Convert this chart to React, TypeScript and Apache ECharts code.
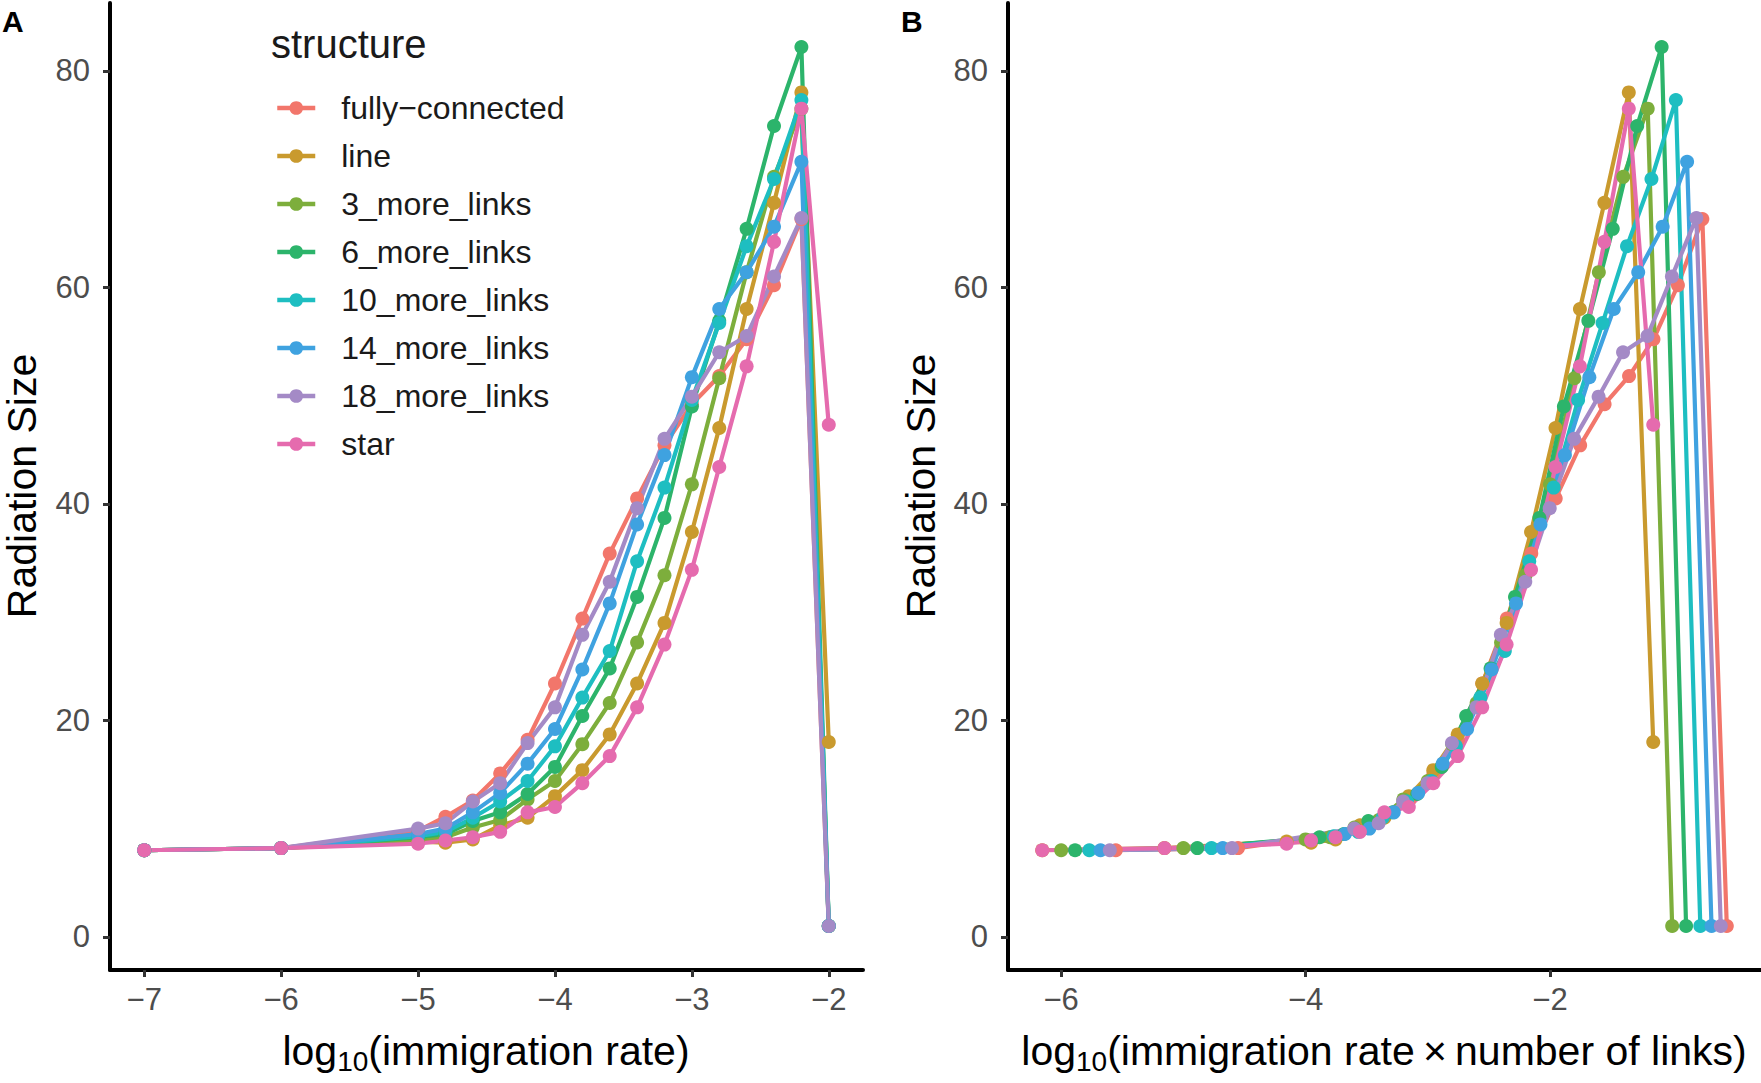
import React, { useEffect, useRef } from "react";
import * as echarts from "echarts";

// log10(immigration rate) sampled values
const logRate = [-7, -6, -5, -4.8, -4.6, -4.4, -4.2, -4.0, -3.8, -3.6, -3.4, -3.2, -3.0, -2.8, -2.6, -2.4, -2.2, -2.0];

const structures = [
  "fully-connected",
  "line",
  "3_more_links",
  "6_more_links",
  "10_more_links",
  "14_more_links",
  "18_more_links",
  "star",
];

// number of links of each structure (used for panel B x = log10(rate * links))
const numberOfLinks = [28, 7, 10, 13, 17, 21, 25, 7];

const fullyConnected = [8.0, 8.2, 9.8, 11.1, 12.6, 15.1, 18.2, 23.4, 29.4, 35.4, 40.5, 45.4, 49.2, 51.8, 55.2, 60.2, 66.3, 1.0];
const lineStruct = [8.0, 8.2, 8.8, 8.7, 9.0, 10.3, 11.0, 13.0, 15.4, 18.7, 23.4, 29.0, 37.4, 47.0, 58.0, 67.8, 78.0, 18.0];
const more3 = [8.0, 8.2, 9.0, 9.2, 10.1, 10.8, 12.7, 14.4, 17.8, 21.6, 27.2, 33.4, 41.8, 51.6, 61.4, 70.2, 76.5, 1.0];
const more6 = [8.0, 8.2, 9.2, 9.5, 10.7, 11.5, 13.2, 15.7, 20.4, 24.8, 31.4, 38.7, 49.0, 56.9, 65.4, 74.9, 82.2, 1.0];
const more10 = [8.0, 8.2, 9.3, 9.7, 11.0, 12.5, 14.4, 17.6, 22.1, 26.4, 34.7, 41.5, 49.6, 56.7, 63.8, 70.0, 77.3, 1.0];
const more14 = [8.0, 8.2, 9.5, 10.0, 11.5, 13.3, 16.0, 19.2, 24.7, 30.8, 38.1, 44.5, 51.7, 58.0, 61.4, 65.6, 71.6, 1.0];
const more18 = [8.0, 8.2, 10.0, 10.5, 12.5, 14.2, 17.9, 21.2, 27.9, 32.8, 39.6, 46.0, 49.9, 54.0, 55.5, 61.0, 66.4, 1.0];
const star = [8.0, 8.2, 8.6, 8.9, 9.2, 9.7, 11.5, 12.0, 14.2, 16.7, 21.2, 27.0, 33.9, 43.4, 52.7, 64.2, 76.5, 47.3];

const seriesValues = [fullyConnected, lineStruct, more3, more6, more10, more14, more18, star];

const colors = ["#F2766B", "#C99A2E", "#7DAE3C", "#2CB46B", "#1EBEC1", "#3FA2E0", "#A48AC6", "#E56BAE"];

const xTicksA = [-7, -6, -5, -4, -3, -2];
const xTicksB = [-6, -4, -2];
const yTicks = [0, 20, 40, 60, 80];

const FONT = "Liberation Sans, Arial, Helvetica, sans-serif";

const fmt = (v: number) => String(v).replace("-", "\u2212");

function axisCommon(ticks: number[], margin: number) {
  return {
    type: "value" as const,
    axisLine: { show: true, onZero: false, lineStyle: { color: "#000000", width: 4 } },
    axisTick: { show: true, length: 7, customValues: ticks, lineStyle: { color: "#333333", width: 3 } },
    axisLabel: {
      customValues: ticks,
      formatter: (v: number) => fmt(v),
      fontSize: 31,
      color: "#4D4D4D",
      fontFamily: FONT,
      margin,
    },
    splitLine: { show: false },
  };
}

export default function App() {
  const ref = useRef<HTMLDivElement>(null);

  useEffect(() => {
    document.body.style.margin = "0";
    if (!ref.current) return;
    const chart = echarts.init(ref.current, undefined, { renderer: "svg" });

    const series: any[] = [];
    for (let p = 0; p < 2; p++) {
      structures.forEach((name, i) => {
        const shift = p === 0 ? 0 : Math.log10(numberOfLinks[i]);
        series.push({
          type: "line",
          name,
          xAxisIndex: p,
          yAxisIndex: p,
          data: logRate.map((x, k) => [x + shift, seriesValues[i][k]]),
          symbol: "circle",
          symbolSize: 14,
          showSymbol: true,
          lineStyle: { width: 4.2, color: colors[i] },
          itemStyle: { color: colors[i] },
          emphasis: { disabled: true },
          z: 2,
        });
      });
    }

    const xTitleRich = {
      a: { fontSize: 41, fontFamily: FONT, color: "#000", lineHeight: 48 },
      s: { fontSize: 28, fontFamily: FONT, color: "#000", lineHeight: 26, verticalAlign: "bottom" },
    };

    const option: any = {
      animation: false,
      backgroundColor: "#ffffff",
      color: colors,
      grid: [
        { left: 110, top: 3, width: 753, height: 967 },
        { left: 1008, top: 3, width: 753, height: 967 },
      ],
      xAxis: [
        { ...axisCommon(xTicksA, 14), gridIndex: 0, min: -7.25, max: -1.75 },
        { ...axisCommon(xTicksB, 14), gridIndex: 1, min: -6.435, max: -0.273 },
      ],
      yAxis: [
        { ...axisCommon(yTicks, 20), gridIndex: 0, min: -3.06, max: 86.26 },
        { ...axisCommon(yTicks, 20), gridIndex: 1, min: -3.06, max: 86.26 },
      ],
      legend: {
        data: structures,
        orient: "vertical",
        left: 275,
        top: 91,
        padding: 0,
        itemWidth: 38,
        itemHeight: 17,
        itemGap: 14,
        selectedMode: false,
        lineStyle: { width: 4.5 },
        formatter: (n: string) => n.replace("-", "\u2212"),
        textStyle: { fontSize: 32, lineHeight: 34, color: "#1A1A1A", fontFamily: FONT, padding: [0, 0, 0, 21] },
      },
      graphic: [
        { type: "text", left: 271, top: 24, style: { text: "structure", fontSize: 40, fontFamily: FONT, fill: "#1A1A1A" } },
        { type: "text", x: 2, y: 6, style: { text: "A", fontSize: 30, fontWeight: "bold", fontFamily: FONT, fill: "#000" } },
        { type: "text", x: 901, y: 6, style: { text: "B", fontSize: 30, fontWeight: "bold", fontFamily: FONT, fill: "#000" } },
        {
          type: "text", x: 22, y: 486, rotation: Math.PI / 2,
          style: { text: "Radiation Size", fontSize: 41, fontFamily: FONT, fill: "#000", align: "center", verticalAlign: "middle" },
        },
        {
          type: "text", x: 921, y: 486, rotation: Math.PI / 2,
          style: { text: "Radiation Size", fontSize: 41, fontFamily: FONT, fill: "#000", align: "center", verticalAlign: "middle" },
        },
        {
          type: "text", x: 486, y: 1051,
          style: { text: "{a|log}{s|10}{a|(immigration rate)}", rich: xTitleRich, align: "center", verticalAlign: "middle" },
        },
        {
          type: "text", x: 1384, y: 1051,
          style: { text: "{a|log}{s|10}{a|(immigration rate\u2009\u00D7\u2009number of links)}", rich: xTitleRich, align: "center", verticalAlign: "middle" },
        },
      ],
      series,
    };

    chart.setOption(option);
    return () => chart.dispose();
  }, []);

  return <div ref={ref} style={{ width: 1761, height: 1083 }} />;
}
